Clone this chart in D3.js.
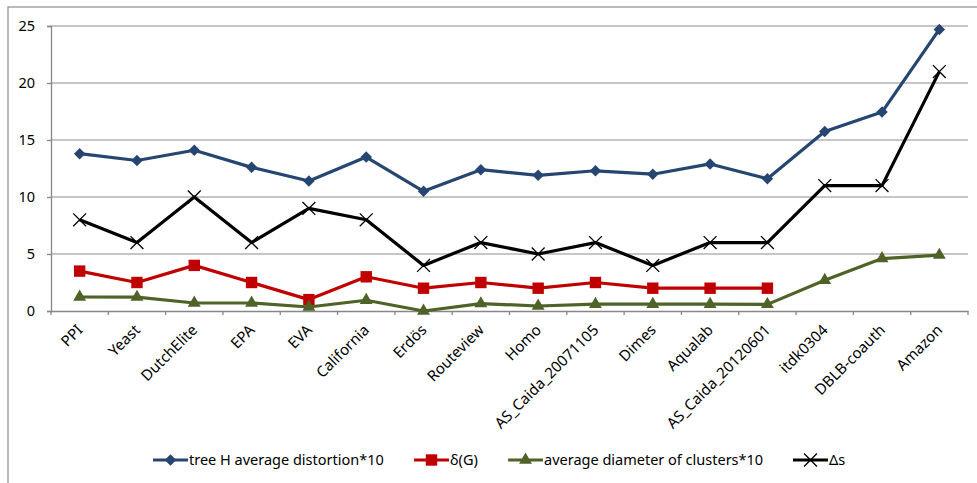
<!DOCTYPE html>
<html><head><meta charset="utf-8">
<script src="https://cdn.jsdelivr.net/npm/d3@7"></script>
<style>
html,body{margin:0;padding:0;background:#fff;}
svg{display:block;font-family:"Noto Sans",sans-serif;}
</style></head>
<body>
<svg id="c" width="977" height="483"></svg>
<script>
const categories = ["PPI","Yeast","DutchElite","EPA","EVA","California","Erdös","Routeview","Homo","AS_Caida_20071105","Dimes","Aqualab","AS_Caida_20120601","itdk0304","DBLB-coauth","Amazon"];
const treeH = [13.8,13.2,14.1,12.6,11.4,13.5,10.5,12.4,11.9,12.3,12.0,12.9,11.6,15.75,17.45,24.7];
const deltaG = [3.5,2.5,4,2.5,1,3,2,2.5,2,2.5,2,2,2,null,null,null];
const diamClusters = [1.23,1.22,0.7,0.7,0.35,0.94,0,0.65,0.44,0.6,0.6,0.6,0.58,2.7,4.6,4.9];
const deltaS = [8,6,10,6,9,8,4,6,5,6,4,6,6,11,11,21];
const yTicks = [0,5,10,15,20,25];
const seriesNames = ["tree H average distortion*10","δ(G)","average diameter of clusters*10","Δs"];

const series = [
  {name:seriesNames[0], values:treeH, color:"#264570", marker:"diamond"},
  {name:seriesNames[1], values:deltaG, color:"#C00000", marker:"square"},
  {name:seriesNames[2], values:diamClusters, color:"#4F6228", marker:"triangle"},
  {name:seriesNames[3], values:deltaS, color:"#000000", marker:"x"}
];

const svg = d3.select("#c");
// outer border (left + top only visible)
svg.append("rect").attr("x",8).attr("y",7).attr("width",1200).attr("height",800)
  .attr("fill","none").attr("stroke","#8c8c8c").attr("stroke-width",1.2);

const x = d3.scaleBand().domain(categories).range([51,968]).padding(0);
const y = d3.scaleLinear().domain([0,25]).range([311,26]);
const cx = c => x(c) + x.bandwidth()/2;

// gridlines
svg.append("g").selectAll("line").data(yTicks.filter(d=>d>0)).join("line")
  .attr("x1",51).attr("x2",968).attr("y1",d=>y(d)).attr("y2",d=>y(d))
  .attr("stroke","#b3b3b3").attr("stroke-width",1.3);

// y axis
const ya = svg.append("g").attr("transform","translate(51,0)")
  .call(d3.axisLeft(y).tickValues(yTicks).tickSize(4).tickPadding(12));
ya.select(".domain").attr("stroke","#878787").attr("stroke-width",1.3);
ya.selectAll(".tick line").attr("stroke","#878787").attr("stroke-width",1.3);
ya.selectAll(".tick text").attr("font-size",14.5).attr("fill","#000").attr("font-family","'Noto Sans',sans-serif");

// x axis
const xa = svg.append("g").attr("transform","translate(0,311)")
  .call(d3.axisBottom(x).tickSize(0).tickFormat(""));
xa.select(".domain").attr("stroke","#878787").attr("stroke-width",1.3);
xa.selectAll(".tick").remove();
svg.append("g").selectAll("line").data(categories.concat(["__end"])).join("line")
  .attr("x1",(d,i)=>i<categories.length? x(d) : x.range()[1])
  .attr("x2",(d,i)=>i<categories.length? x(d) : x.range()[1])
  .attr("y1",311).attr("y2",315).attr("stroke","#878787").attr("stroke-width",1.3);

svg.append("g").selectAll("text").data(categories).join("text")
  .attr("transform",d=>`translate(${cx(d)+4},331) rotate(-45)`)
  .attr("text-anchor","end").attr("font-size",15).attr("fill","#000")
  .text(d=>d);

// lines
const line = d3.line().defined(d=>d.v!=null).x(d=>cx(d.c)).y(d=>y(d.v));
const sym = {
  diamond: d3.symbol().type(d3.symbolSquare).size(66),
  square: d3.symbol().type(d3.symbolSquare).size(130),
  triangle: d3.symbol().type(d3.symbolTriangle).size(72),
  x: d3.symbol().type(d3.symbolX).size(110)
};
const rot = m => m==="diamond" ? " rotate(45)" : "";
series.forEach(s=>{
  const pts = categories.map((c,i)=>({c, v:s.values[i]}));
  svg.append("path").datum(pts).attr("d",line).attr("fill","none")
    .attr("stroke",s.color).attr("stroke-width",3.2).attr("stroke-linejoin","round");
  const g = svg.append("g");
  g.selectAll("path").data(pts.filter(p=>p.v!=null)).join("path")
    .attr("transform",p=>`translate(${cx(p.c)},${y(p.v)})${rot(s.marker)}`)
    .attr("d",sym[s.marker]())
    .attr("fill",s.marker==="x"?"none":s.color)
    .attr("stroke",s.color).attr("stroke-width",s.marker==="x"?1.3:0);
});

// legend
const legendX = [153,414,508,793];
const lg = svg.append("g");
series.forEach((s,i)=>{
  const gx = legendX[i], gy = 460;
  lg.append("line").attr("x1",gx).attr("x2",gx+35).attr("y1",gy).attr("y2",gy)
    .attr("stroke",s.color).attr("stroke-width",3.2);
  lg.append("path").attr("transform",`translate(${gx+17.5},${gy})${rot(s.marker)}`)
    .attr("d",sym[s.marker]())
    .attr("fill",s.marker==="x"?"none":s.color)
    .attr("stroke",s.color).attr("stroke-width",s.marker==="x"?1.3:0);
  lg.append("text").attr("x",gx+36).attr("y",gy).attr("dy","0.35em")
    .attr("font-size",14.5).attr("fill","#000").text(s.name);
});
</script>
</body></html>
